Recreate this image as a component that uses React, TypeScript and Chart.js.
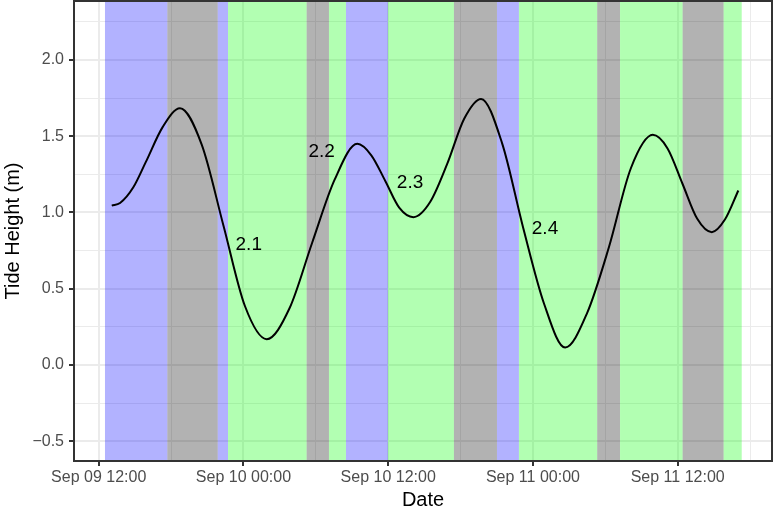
import React, { useEffect, useRef } from "react";
import { Chart, registerables } from "chart.js";

Chart.register(...registerables);

// Hours relative to Sep 09 12:00
const tideHours = [
  1.08, 1.77, 2.87, 3.9, 5.3, 6.74, 8.54, 10.34, 12.13, 13.93, 15.81, 17.69,
  19.56, 21.44, 22.6, 23.77, 24.93, 26.09, 27.49, 28.9, 30.3, 31.7, 33.44,
  35.19, 36.93, 38.67, 40.49, 42.31, 44.12, 45.94, 47.16, 48.39, 49.61, 50.83,
  51.93, 53.03,
];
const tideHeights = [
  1.045, 1.062, 1.165, 1.33, 1.56, 1.684, 1.445, 0.915, 0.385, 0.169, 0.37,
  0.8, 1.215, 1.45, 1.375, 1.205, 1.03, 0.969, 1.07, 1.32, 1.615, 1.745, 1.455,
  0.9, 0.4, 0.114, 0.34, 0.775, 1.29, 1.509, 1.42, 1.19, 0.96, 0.871, 0.955,
  1.144,
];

const bandStart = [
  0.52, 5.69, 9.87, 10.72, 17.24, 19.09, 20.5, 23.98, 29.45, 33.02, 34.84,
  41.33, 43.22, 48.41, 51.81,
];
const bandEnd = [
  5.69, 9.87, 10.72, 17.24, 19.09, 20.5, 23.98, 29.45, 33.02, 34.84, 41.33,
  43.22, 48.41, 51.81, 53.31,
];
const bandKind = [
  "blue", "gray", "blue", "green", "gray", "green", "blue", "green", "gray",
  "blue", "green", "gray", "green", "gray", "green",
];
const bandColors: Record<string, string> = {
  blue: "rgba(0,0,255,0.3)",
  green: "rgba(0,255,0,0.3)",
  gray: "rgba(0,0,0,0.3)",
};

const xTickValues = [0, 12, 24, 36, 48];
const xTickLabels = [
  "Sep 09 12:00",
  "Sep 10 00:00",
  "Sep 10 12:00",
  "Sep 11 00:00",
  "Sep 11 12:00",
];
const xMinorValues = [6, 18, 30, 42, 54];
const yTickValues = [-0.5, 0, 0.5, 1, 1.5, 2];
const yTickLabels = ["\u22120.5", "0.0", "0.5", "1.0", "1.5", "2.0"];
const yMinorValues = [-0.25, 0.25, 0.75, 1.25, 1.75, 2.25];

const labelTexts = ["2.1", "2.2", "2.3", "2.4"];
const labelHours = [12.44, 18.49, 25.81, 37.0];
const labelHeights = [0.787, 1.398, 1.198, 0.892];

const X_MIN = -2.048;
const X_MAX = 55.82;
const Y_MIN = -0.63;
const Y_MAX = 2.387;

const FONT = "'Liberation Sans', Arial, Helvetica, sans-serif";

const isMajor = (list: number[], v: number) =>
  list.some((m) => Math.abs(m - v) < 1e-6);

export default function App() {
  const ref = useRef<HTMLCanvasElement | null>(null);

  useEffect(() => {
    if (!ref.current) return;

    const bandsPlugin = {
      id: "bands",
      beforeDatasetsDraw(chart: any) {
        const { ctx, chartArea } = chart;
        const xs = chart.scales.x;
        ctx.save();
        ctx.beginPath();
        ctx.rect(chartArea.left, chartArea.top, chartArea.right - chartArea.left, chartArea.bottom - chartArea.top);
        ctx.clip();
        bandStart.forEach((s, i) => {
          const x1 = xs.getPixelForValue(s);
          const x2 = xs.getPixelForValue(bandEnd[i]);
          ctx.fillStyle = bandColors[bandKind[i]];
          ctx.fillRect(x1, chartArea.top, x2 - x1, chartArea.bottom - chartArea.top);
        });
        ctx.restore();
      },
      afterDatasetsDraw(chart: any) {
        const { ctx, chartArea } = chart;
        const xs = chart.scales.x;
        const ys = chart.scales.y;
        ctx.save();
        ctx.fillStyle = "#000000";
        ctx.font = `19px ${FONT}`;
        ctx.textAlign = "center";
        ctx.textBaseline = "middle";
        labelTexts.forEach((t, i) => {
          ctx.fillText(t, xs.getPixelForValue(labelHours[i]), ys.getPixelForValue(labelHeights[i]));
        });
        ctx.strokeStyle = "#333333";
        ctx.lineWidth = 2;
        ctx.strokeRect(chartArea.left, chartArea.top, chartArea.right - chartArea.left, chartArea.bottom - chartArea.top);
        ctx.restore();
      },
    };

    const xAll = [...xTickValues, ...xMinorValues].sort((a, b) => a - b);
    const yAll = [...yTickValues, ...yMinorValues].sort((a, b) => a - b);

    const chart = new Chart(ref.current, {
      type: "line",
      data: {
        datasets: [
          {
            data: tideHours.map((h, i) => ({ x: h, y: tideHeights[i] })),
            borderColor: "#000000",
            borderWidth: 2,
            pointRadius: 0,
            fill: false,
            cubicInterpolationMode: "monotone",
          } as any,
        ],
      },
      options: {
        responsive: false,
        animation: false,
        devicePixelRatio: 1,
        layout: { padding: { top: 1, right: 2, left: 0, bottom: 0 } },
        plugins: {
          legend: { display: false },
          tooltip: { enabled: false },
        },
        scales: {
          x: {
            type: "linear",
            min: X_MIN,
            max: X_MAX,
            afterBuildTicks: (s: any) => {
              s.ticks = xAll.map((v) => ({ value: v }));
            },
            afterFit: (s: any) => {
              s.height = 51;
              s.paddingLeft = 0;
              s.paddingRight = 0;
              s.paddingTop = 0;
              s.paddingBottom = 0;
            },
            ticks: {
              autoSkip: false,
              maxRotation: 0,
              minRotation: 0,
              padding: 2,
              color: "#4D4D4D",
              font: { size: 16, family: FONT },
              callback: (v: any) => {
                const i = xTickValues.findIndex((m) => Math.abs(m - v) < 1e-6);
                return i >= 0 ? xTickLabels[i] : "";
              },
            },
            grid: {
              color: "#EBEBEB",
              lineWidth: (c: any) => (c.tick && isMajor(xTickValues, c.tick.value) ? 2 : 1),
              drawTicks: true,
              tickLength: 5,
              tickWidth: 2,
              tickColor: (c: any) =>
                c.tick && isMajor(xTickValues, c.tick.value) ? "#333333" : "rgba(0,0,0,0)",
            } as any,
            border: { display: false },
            title: {
              display: true,
              text: "Date",
              color: "#000000",
              font: { size: 20, family: FONT },
              padding: { top: 0, bottom: 0 },
            },
          },
          y: {
            type: "linear",
            min: Y_MIN,
            max: Y_MAX,
            afterBuildTicks: (s: any) => {
              s.ticks = yAll.map((v) => ({ value: v }));
            },
            afterFit: (s: any) => {
              s.width = 74;
              s.paddingTop = 0;
              s.paddingBottom = 0;
              s.paddingLeft = 0;
              s.paddingRight = 0;
            },
            ticks: {
              autoSkip: false,
              padding: 5,
              color: "#4D4D4D",
              font: { size: 16, family: FONT },
              callback: (v: any) => {
                const i = yTickValues.findIndex((m) => Math.abs(m - v) < 1e-6);
                return i >= 0 ? yTickLabels[i] : "";
              },
            },
            grid: {
              color: "#EBEBEB",
              lineWidth: (c: any) => (c.tick && isMajor(yTickValues, c.tick.value) ? 2 : 1),
              drawTicks: true,
              tickLength: 5,
              tickWidth: 2,
              tickColor: (c: any) =>
                c.tick && isMajor(yTickValues, c.tick.value) ? "#333333" : "rgba(0,0,0,0)",
            } as any,
            border: { display: false },
            title: {
              display: true,
              text: "Tide Height (m)",
              color: "#000000",
              font: { size: 20, family: FONT },
              padding: { top: 1, bottom: 0 },
            },
          },
        },
      },
      plugins: [bandsPlugin],
    });

    return () => chart.destroy();
  }, []);

  return (
    <div style={{ position: "absolute", left: 0, top: 0, width: 774, height: 512, background: "#ffffff" }}>
      <canvas ref={ref} width={774} height={512} style={{ display: "block" }} />
    </div>
  );
}
